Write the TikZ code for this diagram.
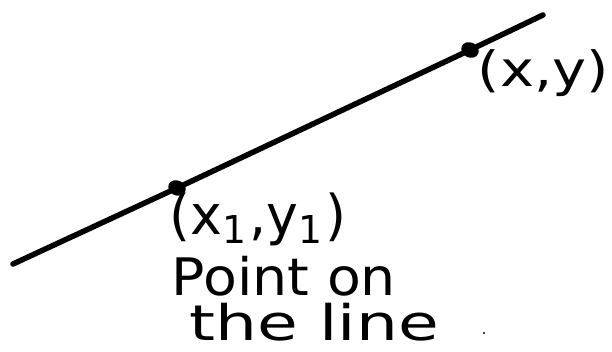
\documentclass[tikz,border=0pt]{standalone}
\usepackage{fontspec}
\setmainfont{DejaVu Sans}
\usepackage{graphicx}
\usetikzlibrary{shapes.geometric}
\begin{document}
\begin{tikzpicture}[x=1pt,y=-1pt,
  lineink/.style={line width=5.5pt,line cap=round,line join=round},
  ptdot/.style={ellipse,fill=black,inner sep=0pt,minimum width=18pt,minimum height=15pt},
  hand/.style={inner sep=0pt,anchor=center}]
\useasboundingbox (0,0) rectangle (612,352);
\coordinate (L) at (13,264);
\coordinate (R) at (543,15);
\node[ptdot,rotate=-25] (p1) at (177,188) {};
\node[ptdot,rotate=-25] (p2) at (470,50) {};
\draw[lineink] (L) -- (p1.center) -- (p2.center) -- (R);
\node[hand] (xy) at (543.5,73.5) {\resizebox*{131pt}{47pt}{(x,y)}};
\node[hand] (x1y1) at (258,219.5) {\resizebox*{176pt}{53pt}{(x\textsubscript{1},y\textsubscript{1})}};
\node[hand] (pon) at (284,276) {\resizebox*{224pt}{40pt}{Point on}};
\node[hand] (tline) at (314.5,322.5) {\resizebox*{249pt}{38pt}{the line}};
\fill (484,333) circle (1.2pt);
\end{tikzpicture}
\end{document}
